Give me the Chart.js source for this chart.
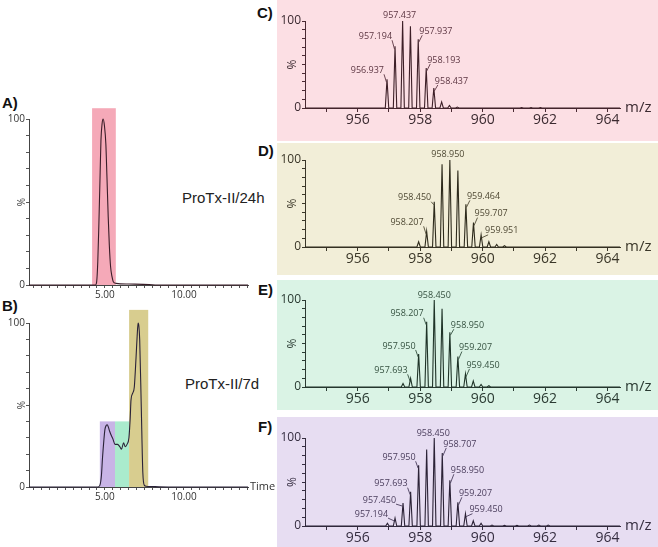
<!DOCTYPE html>
<html><head><meta charset="utf-8">
<script src="https://cdn.jsdelivr.net/npm/chart.js@4.4.1/dist/chart.umd.min.js"></script>
<style>
html,body{margin:0;padding:0;background:#fff;}
#root{position:relative;width:658px;height:547px;overflow:hidden;}
.bg{position:absolute;left:277px;width:381px;}
canvas{position:absolute;}
.pl{position:absolute;font:bold 15px "Liberation Sans",Arial,sans-serif;line-height:15px;color:#111;}
.tx{position:absolute;font:15px "Liberation Sans",Arial,sans-serif;line-height:15px;color:#222;white-space:nowrap;}
</style></head><body>
<div id="root">
 <div class="bg" style="top:0;height:141px;background:#fcdfe4"></div>
 <div class="bg" style="top:143px;height:132px;background:#f2eed8"></div>
 <div class="bg" style="top:280px;height:130px;background:#daf3e5"></div>
 <div class="bg" style="top:417px;height:130px;background:#e7ddf2"></div>
 <div class="pl" style="left:2px;top:95px">A)</div>
 <div class="pl" style="left:2px;top:298px">B)</div>
 <div class="pl" style="left:257px;top:5px">C)</div>
 <div class="pl" style="left:258px;top:143px">D)</div>
 <div class="pl" style="left:258px;top:282px">E)</div>
 <div class="pl" style="left:258px;top:419px">F)</div>
 <div class="tx" style="left:182px;top:190px">ProTx-II/24h</div>
 <div class="tx" style="left:185px;top:376px">ProTx-II/7d</div>
 <canvas id="cA" width="280" height="215" style="left:0;top:95px"></canvas>
 <canvas id="cB" width="280" height="210" style="left:0;top:300px"></canvas>
 <canvas id="cC" width="381" height="141" style="left:277px;top:0"></canvas>
 <canvas id="cD" width="381" height="132" style="left:277px;top:143px"></canvas>
 <canvas id="cE" width="381" height="130" style="left:277px;top:280px"></canvas>
 <canvas id="cF" width="381" height="130" style="left:277px;top:417px"></canvas>
</div>
<script>
// ---------- chromatograms (time in min, intensity in %) ----------
const timeA = [0.2, 4.40, 4.48, 4.55, 4.62, 4.70, 4.75, 4.82, 4.89, 4.97, 5.06, 5.13, 5.21, 5.28, 5.36, 5.45, 5.53, 5.7, 6.5, 7.8, 8.3, 14.05];
const intA  = [0, 0, 2, 14, 37, 68, 87, 97, 100, 96, 85, 65, 41, 24, 11, 5, 2, 1, 0.6, 0.3, 0, 0];
const timeB = [0.2, 4.55, 4.68, 4.78, 4.85, 4.93, 5.0, 5.08, 5.15, 5.22, 5.3, 5.4, 5.5, 5.64, 5.8, 5.95, 6.05, 6.18, 6.28, 6.4, 6.52, 6.6, 6.65, 6.75, 6.86, 6.97, 7.04, 7.1, 7.15, 7.2, 7.3, 7.4, 7.5, 7.6, 8.0, 9.0, 14.05];
const intB  = [0, 0, 1, 7, 18, 28, 35, 37.5, 38, 36.5, 34, 31.5, 29.5, 26, 26, 24.5, 23, 27, 24.6, 26, 30, 42, 53, 57, 61, 79, 92, 100, 98, 90, 49, 8.5, 1, 0.5, 0.3, 0, 0];
// highlighted time windows
const winStartA = [4.19];
const winEndA   = [5.69];
const winTopA   = [106.5];
const winStartB = [4.68, 5.64, 6.53];
const winEndB   = [5.64, 6.53, 7.74];
const winTopB   = [40, 40, 108];
const timeTickLabels = [5, 10];

// ---------- mass spectra (m/z, relative intensity %) ----------
const mzC  = [956.937, 957.194, 957.437, 957.687, 957.937, 958.193, 958.437, 958.687, 958.937, 959.19, 961.25, 961.55, 961.85];
const intC = [33, 71, 100, 94, 79, 46, 23, 7, 3, 1, 0.5, 0.5, 0.5];
const labC = ['956.937', '957.194', '957.437', '957.937', '958.193', '958.437'];

const mzD  = [957.95, 958.207, 958.450, 958.70, 958.950, 959.207, 959.464, 959.707, 959.951, 960.2, 960.45, 960.7];
const intD = [6, 18, 52, 95, 100, 88, 49, 28, 14, 6, 3, 1.5];
const labD = ['958.207', '958.450', '958.950', '959.464', '959.707', '959.951'];

const mzE  = [957.45, 957.693, 957.950, 958.207, 958.450, 958.70, 958.950, 959.207, 959.450, 959.70, 959.95, 960.2];
const intE = [4, 10, 38, 75, 100, 90, 63, 35, 15, 7, 3, 1.5];
const labE = ['957.693', '957.950', '958.207', '958.450', '958.950', '959.207', '959.450'];

const mzF  = [956.95, 957.194, 957.450, 957.693, 957.950, 958.207, 958.450, 958.707, 958.950, 959.207, 959.450, 959.70, 959.95, 960.3, 960.7, 961.1, 961.5, 961.8, 962.1];
const intF = [3, 9, 26, 39, 69, 87, 100, 83, 52, 27, 14, 6, 3, 1, 0.8, 0.8, 1, 1, 1];
const labF = ['957.194', '957.450', '957.693', '957.950', '958.450', '958.707', '958.950', '959.207', '959.450'];

// ---------- styling (label placement: side, dx, dy in px) ----------
const placeC = [['L',-3,-9],['L',-3,-10],['T',-3,-6],['R',1,-8],['R',1,-8],['R',1,-7]];
const placeD = [['L',-3,-9],['L',-3,-4],['T',-2,-6],['R',1,-8],['R',1,-9],['R',4,-4]];
const placeE = [['L',-3,-8],['L',-3,-8],['L',-3,-8],['T',0,-5],['R',1,-7],['R',1,-9],['R',1,-9]];
const placeF = [['L',-7,-4],['L',-7,-3],['L',-3,-8],['L',-3,-8],['T',-1,-5],['R',1,-9],['R',1,-10],['R',1,-9],['R',4,-4]];

const MZ_MIN = 954.31, MZ_MAX = 964.4;
const T_MIN = 0.2, T_MAX = 14.05;
const SANS = '"Open Sans", "Noto Sans", sans-serif';

function chromChart(id, times, ints, ws, we, wt, colors, lineColor, dims, showTime) {
  const pts = times.map((t, i) => ({x: t, y: ints[i]}));
  const boxPlugin = {
    id: 'boxes',
    beforeDatasetsDraw(chart) {
      const {ctx, scales: {x, y}} = chart;
      ctx.save();
      ws.forEach((s, i) => {
        const x1 = x.getPixelForValue(s), x2 = x.getPixelForValue(we[i]);
        const yt = y.getPixelForValue(wt[i]), yb = y.getPixelForValue(0);
        ctx.fillStyle = colors[i];
        ctx.fillRect(x1, yt, x2 - x1, yb - yt);
      });
      ctx.restore();
    },
    afterDraw(chart) {
      if (!showTime) return;
      const {ctx, chartArea} = chart;
      ctx.save();
      ctx.font = '11px ' + SANS;
      ctx.fillStyle = '#333';
      ctx.textAlign = 'left';
      ctx.textBaseline = 'middle';
      ctx.fillText('Time', chartArea.right + 2, chartArea.bottom);
      ctx.restore();
    }
  };
  new Chart(document.getElementById(id), {
    type: 'line',
    data: {datasets: [{data: pts, borderColor: lineColor, borderWidth: 1.1, pointRadius: 0,
      cubicInterpolationMode: 'monotone', fill: false, clip: 6}]},
    options: {
      responsive: false, animation: false, events: [],
      layout: {padding: {left: 0, right: dims.right, top: dims.top, bottom: 0}},
      plugins: {legend: {display: false}, tooltip: {enabled: false}},
      scales: {
        x: {type: 'linear', min: T_MIN, max: T_MAX,
          afterFit(s) { s.height = dims.xh; },
          grid: {drawOnChartArea: false, drawTicks: true, tickLength: 3, color: '#555'},
          border: {color: '#444', width: 1},
          ticks: {stepSize: 0.5, includeBounds: false, autoSkip: false, maxRotation: 0, padding: 1,
            color: '#333', font: {family: SANS, size: 10},
            callback: (v) => timeTickLabels.some(l => Math.abs(l - v) < 1e-6) ? Number(v).toFixed(2) : ''}},
        y: {min: 0, max: 100,
          afterFit(s) { s.width = 29; },
          grid: {drawOnChartArea: false, drawTicks: true, tickLength: 3, color: '#555'},
          border: {color: '#444', width: 1},
          ticks: {stepSize: 10, autoSkip: false, padding: 1, color: '#333', font: {family: SANS, size: 10},
            callback: (v) => (v === 0 || v === 100) ? String(v) : ''},
          title: {display: true, text: '%', color: '#444', font: {family: SANS, size: 10}, padding: {top: 16, bottom: 0}}}
      }
    },
    plugins: [boxPlugin]
  });
}

function specChart(id, mz, inten, labels, place, pal, dims) {
  const pts = [{x: MZ_MIN, y: 0}];
  mz.forEach((m, i) => { pts.push({x: m - 0.055, y: 0}, {x: m, y: inten[i]}, {x: m + 0.055, y: 0}); });
  pts.push({x: MZ_MAX, y: 0});
  const labelPlugin = {
    id: 'peakLabels',
    afterDatasetsDraw(chart) {
      const {ctx, scales: {x, y}, chartArea} = chart;
      ctx.save();
      ctx.font = '9px ' + SANS;
      ctx.fillStyle = pal.label;
      ctx.strokeStyle = pal.label;
      ctx.lineWidth = 0.9;
      ctx.textBaseline = 'middle';
      labels.forEach((lab, k) => {
        const v = parseFloat(lab);
        let bi = 0;
        mz.forEach((m, i) => { if (Math.abs(m - v) < Math.abs(mz[bi] - v)) bi = i; });
        const px = x.getPixelForValue(mz[bi]);
        const top = y.getPixelForValue(inten[bi]);
        const [side, dx, dy] = place[k];
        const tx = px + dx, ty = top + dy;
        if (side === 'T') {
          ctx.textAlign = 'center';
          ctx.fillText(lab, tx, ty);
        } else if (side === 'L') {
          ctx.textAlign = 'right';
          ctx.fillText(lab, tx, ty);
          ctx.beginPath(); ctx.moveTo(tx, ty + 4); ctx.lineTo(px - 0.5, top + 3); ctx.stroke();
        } else {
          ctx.textAlign = 'left';
          ctx.fillText(lab, tx, ty);
          ctx.beginPath(); ctx.moveTo(tx + 3, ty + 4); ctx.lineTo(px + 0.5, top + 3); ctx.stroke();
        }
      });
      ctx.font = '15px ' + SANS;
      ctx.fillStyle = pal.tick;
      ctx.textAlign = 'left';
      ctx.fillText('m/z', chartArea.right + 5, chartArea.bottom);
      ctx.restore();
    }
  };
  new Chart(document.getElementById(id), {
    type: 'line',
    data: {datasets: [{data: pts, borderColor: pal.line, borderWidth: 1.1, pointRadius: 0, tension: 0, fill: false, clip: 6}]},
    options: {
      responsive: false, animation: false, events: [],
      layout: {padding: {left: 0, right: 38, top: dims.top, bottom: 0}},
      plugins: {legend: {display: false}, tooltip: {enabled: false}},
      scales: {
        x: {type: 'linear', min: MZ_MIN, max: MZ_MAX,
          afterFit(s) { s.height = dims.xh; },
          grid: {drawOnChartArea: false, drawTicks: true, tickLength: 4, color: pal.axis},
          border: {color: pal.axis, width: 1},
          ticks: {stepSize: 1, includeBounds: false, autoSkip: false, maxRotation: 0, padding: 0,
            color: pal.tick, font: {family: SANS, size: 14},
            callback: (v) => { const r = Math.round(v); return (Math.abs(v - r) < 1e-6 && r % 2 === 0) ? String(r) : ''; }}},
        y: {min: 0, max: 100,
          afterFit(s) { s.width = 28; },
          grid: {drawOnChartArea: false, drawTicks: true, tickLength: 3, color: pal.axis},
          border: {color: pal.axis, width: 1},
          ticks: {stepSize: 10, autoSkip: false, padding: 1, color: pal.tick, font: {family: SANS, size: 12},
            callback: (v) => (v === 0 || v === 100) ? String(v) : ''},
          title: {display: true, text: '%', color: pal.tick, font: {family: SANS, size: 12}, padding: {top: 8, bottom: 0}}}
      }
    },
    plugins: [labelPlugin]
  });
}

chromChart('cA', timeA, intA, winStartA, winEndA, winTopA, ['#f5a9b8'], '#3a1d28', {top: 24, right: 32, xh: 25}, false);
chromChart('cB', timeB, intB, winStartB, winEndB, winTopB, ['#c8b4e6', '#aaebcd', '#d8cd8f'], '#2a2238', {top: 23, right: 32, xh: 23}, true);

specChart('cC', mzC, intC, labC, placeC, {line: '#3d1f27', label: '#5c3642', tick: '#3b2a30', axis: '#4a2a33'}, {top: 21, xh: 33});
specChart('cD', mzD, intD, labD, placeD, {line: '#2e2b1c', label: '#4f4934', tick: '#3a3628', axis: '#3a3628'}, {top: 17, xh: 28});
specChart('cE', mzE, intE, labE, placeE, {line: '#1f3328', label: '#34503f', tick: '#2a3a32', axis: '#2a3a32'}, {top: 20, xh: 23});
specChart('cF', mzF, intF, labF, placeF, {line: '#2b2236', label: '#4a3d5c', tick: '#352d40', axis: '#352d40'}, {top: 21, xh: 21});
</script>
</body></html>
